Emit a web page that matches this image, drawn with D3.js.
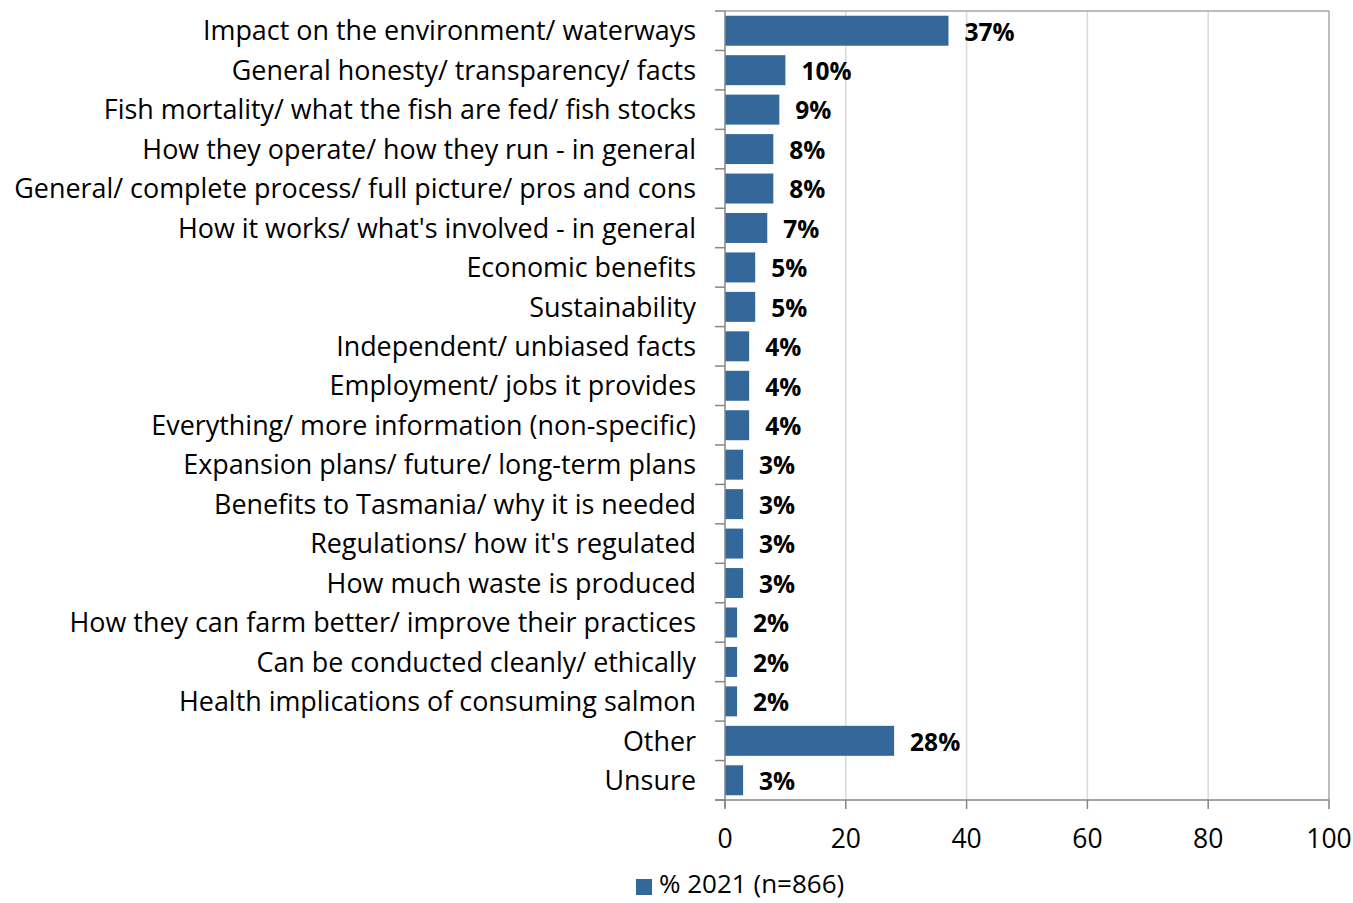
<!DOCTYPE html>
<html><head><meta charset="utf-8">
<script src="https://cdn.jsdelivr.net/npm/d3@7"></script>
<style>body{margin:0;background:#fff}svg{display:block}</style>
</head><body><svg id="c" width="1353" height="903"></svg>
<script>
const categories = [
 "Impact on the environment/ waterways",
 "General honesty/ transparency/ facts",
 "Fish mortality/ what the fish are fed/ fish stocks",
 "How they operate/ how they run - in general",
 "General/ complete process/ full picture/ pros and cons",
 "How it works/ what's involved - in general",
 "Economic benefits",
 "Sustainability",
 "Independent/ unbiased facts",
 "Employment/ jobs it provides",
 "Everything/ more information (non-specific)",
 "Expansion plans/ future/ long-term plans",
 "Benefits to Tasmania/ why it is needed",
 "Regulations/ how it's regulated",
 "How much waste is produced",
 "How they can farm better/ improve their practices",
 "Can be conducted cleanly/ ethically",
 "Health implications of consuming salmon",
 "Other",
 "Unsure"
];
const values2021 = [37,10,9,8,8,7,5,5,4,4,4,3,3,3,3,2,2,2,28,3];
const xTicks = [0,20,40,60,80,100];
const seriesName = "% 2021 (n=866)";

const svg = d3.select("#c");
const font = "'Open Sans', sans-serif";
const L = 725, R = 1329, T = 11, B = 800;
const x = d3.scaleLinear().domain([0,100]).range([L,R]);
const y = d3.scaleBand().domain(categories).range([T,B]).paddingInner(0.24).paddingOuter(0.12);

// grid
svg.append("g").selectAll("line").data(xTicks.slice(1)).join("line")
  .attr("x1",d=>x(d)).attr("x2",d=>x(d)).attr("y1",T).attr("y2",B)
  .attr("stroke",d=>d===100?"#a6a6a6":"#d9d9d9").attr("stroke-width",1.5);
svg.append("line").attr("x1",L).attr("x2",R).attr("y1",T).attr("y2",T).attr("stroke","#a6a6a6").attr("stroke-width",1.5);

// bars
svg.append("g").selectAll("rect").data(categories).join("rect")
  .attr("x",x(0)).attr("y",d=>y(d)).attr("height",y.bandwidth())
  .attr("width",(d,i)=>x(values2021[i])-x(0)).attr("fill","#35689a");

// value labels
svg.append("g").selectAll("text").data(categories).join("text")
  .attr("x",(d,i)=>x(values2021[i])+16).attr("y",d=>y(d)+y.bandwidth()/2+1)
  .attr("dy","0.36em").attr("font-family",font).attr("font-weight","bold")
  .attr("font-size",24.5).attr("fill","#000").text((d,i)=>values2021[i]+"%");

// y axis
const yAxisG = svg.append("g");
yAxisG.append("line").attr("x1",L).attr("x2",L).attr("y1",T).attr("y2",B+8).attr("stroke","#868686").attr("stroke-width",1.5);
const bounds = d3.range(categories.length+1).map(i=>T + i*(B-T)/categories.length);
yAxisG.selectAll("line.t").data(bounds).join("line").attr("class","t")
  .attr("x1",L-10).attr("x2",L).attr("y1",d=>d).attr("y2",d=>d).attr("stroke","#868686").attr("stroke-width",1.5);
yAxisG.selectAll("text").data(categories).join("text")
  .attr("x",696).attr("y",d=>y(d)+y.bandwidth()/2).attr("dy","0.36em")
  .attr("text-anchor","end").attr("font-family",font).attr("font-size",26.9).attr("fill","#000").text(d=>d);

// x axis
const xAxisG = svg.append("g");
xAxisG.append("line").attr("x1",L-10).attr("x2",R).attr("y1",B).attr("y2",B).attr("stroke","#868686").attr("stroke-width",1.5);
xAxisG.selectAll("line.t").data(xTicks).join("line").attr("class","t")
  .attr("x1",d=>x(d)).attr("x2",d=>x(d)).attr("y1",B).attr("y2",B+9).attr("stroke","#868686").attr("stroke-width",1.5);
xAxisG.selectAll("text").data(xTicks).join("text")
  .attr("x",d=>x(d)).attr("y",838).attr("dy","0.36em").attr("text-anchor","middle")
  .attr("font-family",font).attr("font-size",26.5).attr("fill","#000").text(d=>d);

// legend
svg.append("rect").attr("x",636).attr("y",879).attr("width",16).attr("height",16).attr("fill","#35689a");
svg.append("text").attr("x",659).attr("y",884).attr("dy","0.36em").attr("font-family",font).attr("font-size",26).attr("fill","#000").text(seriesName);
</script></body></html>
